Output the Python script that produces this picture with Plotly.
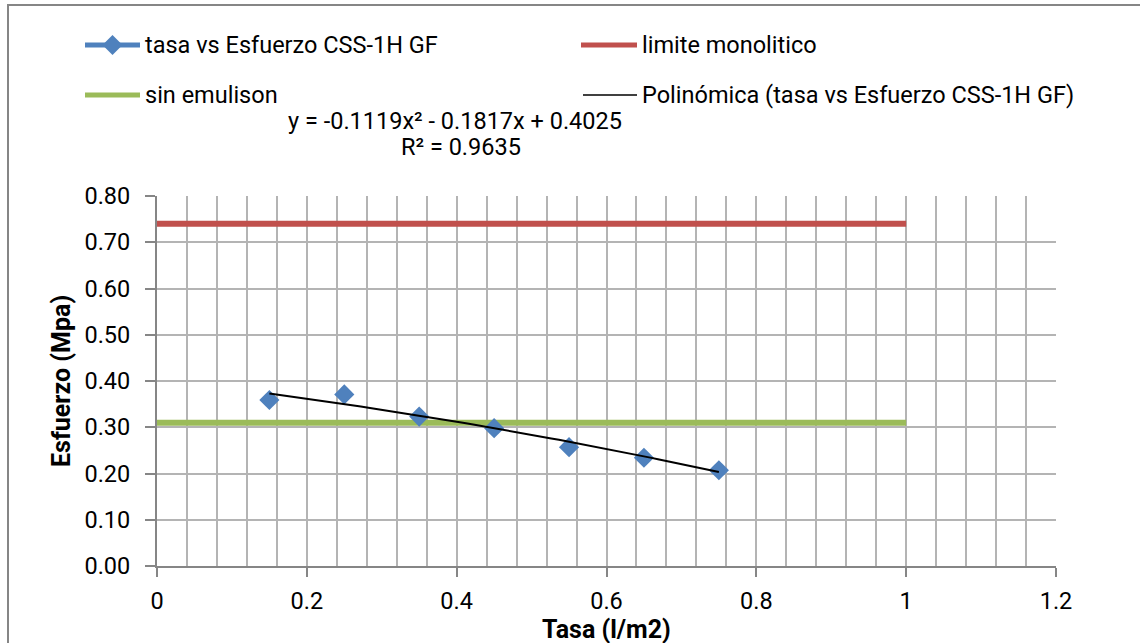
import plotly.graph_objects as go
import numpy as np

# Measured stress vs application rate
tasa = [0.15, 0.25, 0.35, 0.45, 0.55, 0.65, 0.75]
esfuerzo = [0.359, 0.371, 0.323, 0.298, 0.257, 0.234, 0.207]

# Reference limits
limite_x = [0, 1]
limite_y = [0.74, 0.74]
sin_emul_x = [0, 1]
sin_emul_y = [0.31, 0.31]

# Polynomial trendline coefficients (a*x^2 + b*x + c)
poly_a, poly_b, poly_c = -0.1119, -0.1817, 0.4025
r2 = 0.9635

x_ticks = [0, 0.2, 0.4, 0.6, 0.8, 1.0, 1.2]
y_ticks = [0.0, 0.1, 0.2, 0.3, 0.4, 0.5, 0.6, 0.7, 0.8]

BLUE = "#4F81BD"
RED = "#C0504D"
GREEN = "#9BBB59"
GRID = "#b4b4b4"
AXIS = "#868686"
FONT = "Roboto"

W, H = 1140, 643
L, R, T, B = 157, 84, 196, 77
PW, PH = W - L - R, H - T - B


def px(x):
    return (x - L) / PW


def py(y):
    return (H - B - y) / PH


trend_x = np.linspace(min(tasa), max(tasa), 60)
trend_y = poly_a * trend_x**2 + poly_b * trend_x + poly_c

fig = go.Figure()
fig.add_trace(go.Scatter(x=limite_x, y=limite_y, mode="lines",
                         line=dict(color=RED, width=6), name="limite monolitico"))
fig.add_trace(go.Scatter(x=sin_emul_x, y=sin_emul_y, mode="lines",
                         line=dict(color=GREEN, width=6), name="sin emulison"))
fig.add_trace(go.Scatter(x=tasa, y=esfuerzo, mode="markers",
                         marker=dict(symbol="diamond", size=15.5, color=BLUE),
                         name="tasa vs Esfuerzo CSS-1H GF"))
fig.add_trace(go.Scatter(x=trend_x, y=trend_y, mode="lines",
                         line=dict(color="black", width=2),
                         name="Polinómica (tasa vs Esfuerzo CSS-1H GF)"))

shapes = []
annotations = []

# Outer chart frame
shapes.append(dict(type="rect", xref="paper", yref="paper",
                   x0=px(8), x1=px(1300), y0=py(5), y1=py(800),
                   line=dict(color=AXIS, width=2), layer="below"))

# Legend entries laid out in two columns
legend_items = [
    ("tasa vs Esfuerzo CSS-1H GF", BLUE, 5, True, 85, 45),
    ("limite monolitico", RED, 5, False, 581, 45),
    ("sin emulison", GREEN, 5, False, 85, 95),
    ("Polinómica (tasa vs Esfuerzo CSS-1H GF)", "black", 1.5, False, 583, 95),
]
for text, color, lw, diamond, x0, yc in legend_items:
    x1 = x0 + 55 if x0 < 300 else 637
    shapes.append(dict(type="line", xref="paper", yref="paper",
                       x0=px(x0), x1=px(x1), y0=py(yc), y1=py(yc),
                       line=dict(color=color, width=lw)))
    if diamond:
        cx, r = (x0 + x1) / 2, 10
        path = (f"M {px(cx - r)} {py(yc)} L {px(cx)} {py(yc - r)} "
                f"L {px(cx + r)} {py(yc)} L {px(cx)} {py(yc + r)} Z")
        shapes.append(dict(type="path", xref="paper", yref="paper", path=path,
                           fillcolor=color, line=dict(color=color, width=0)))
    annotations.append(dict(text=text, xref="paper", yref="paper",
                            x=px(x1 + 3), y=py(yc), xanchor="left", yanchor="middle",
                            showarrow=False, font=dict(family=FONT, size=23.5, color="black")))

# Trendline equation and R²
annotations.append(dict(text=f"y = {poly_a:.4f}x² - {abs(poly_b):.4f}x + {poly_c:.4f}",
                        xref="paper", yref="paper", x=px(455), y=py(121),
                        xanchor="center", yanchor="middle", showarrow=False,
                        font=dict(family=FONT, size=23.5, color="black")))
annotations.append(dict(text=f"R² = {r2:.4f}",
                        xref="paper", yref="paper", x=px(461), y=py(147),
                        xanchor="center", yanchor="middle", showarrow=False,
                        font=dict(family=FONT, size=23.5, color="black")))

# Axis titles
annotations.append(dict(text="<b>Esfuerzo (Mpa)</b>", xref="paper", yref="paper",
                        x=px(61), y=py(381), textangle=-90,
                        xanchor="center", yanchor="middle", showarrow=False,
                        font=dict(family=FONT, size=25, color="black")))
annotations.append(dict(text="<b>Tasa (l/m2)</b>", xref="paper", yref="paper",
                        x=px(606), y=py(629),
                        xanchor="center", yanchor="middle", showarrow=False,
                        font=dict(family=FONT, size=25, color="black")))

fig.update_layout(
    width=W, height=H,
    margin=dict(l=L, r=R, t=T, b=B, pad=0),
    paper_bgcolor="white", plot_bgcolor="white",
    showlegend=False,
    shapes=shapes, annotations=annotations,
    font=dict(family=FONT, size=23.5, color="black"),
)
fig.update_xaxes(
    range=[0, 1.2], tickvals=x_ticks, ticktext=[f"{v:g}" for v in x_ticks],
    showgrid=True, gridcolor=GRID, gridwidth=1.5,
    minor=dict(dtick=0.04, tick0=0, showgrid=True, gridcolor=GRID, gridwidth=1.5),
    showline=True, linecolor=AXIS, linewidth=2,
    ticks="outside", ticklen=9, tickcolor=AXIS, tickwidth=2,
    ticklabelstandoff=4,
    zeroline=False, tickfont=dict(family=FONT, size=23.5, color="black"),
)
fig.update_yaxes(
    range=[0, 0.8], tickvals=y_ticks, ticktext=[f"{v:.2f}" for v in y_ticks],
    showgrid=True, gridcolor=GRID, gridwidth=1.5,
    showline=True, linecolor=AXIS, linewidth=2,
    ticks="outside", ticklen=10, tickcolor=AXIS, tickwidth=2,
    ticklabelstandoff=10,
    zeroline=False, tickfont=dict(family=FONT, size=23.5, color="black"),
)

fig.write_html("out.html")
